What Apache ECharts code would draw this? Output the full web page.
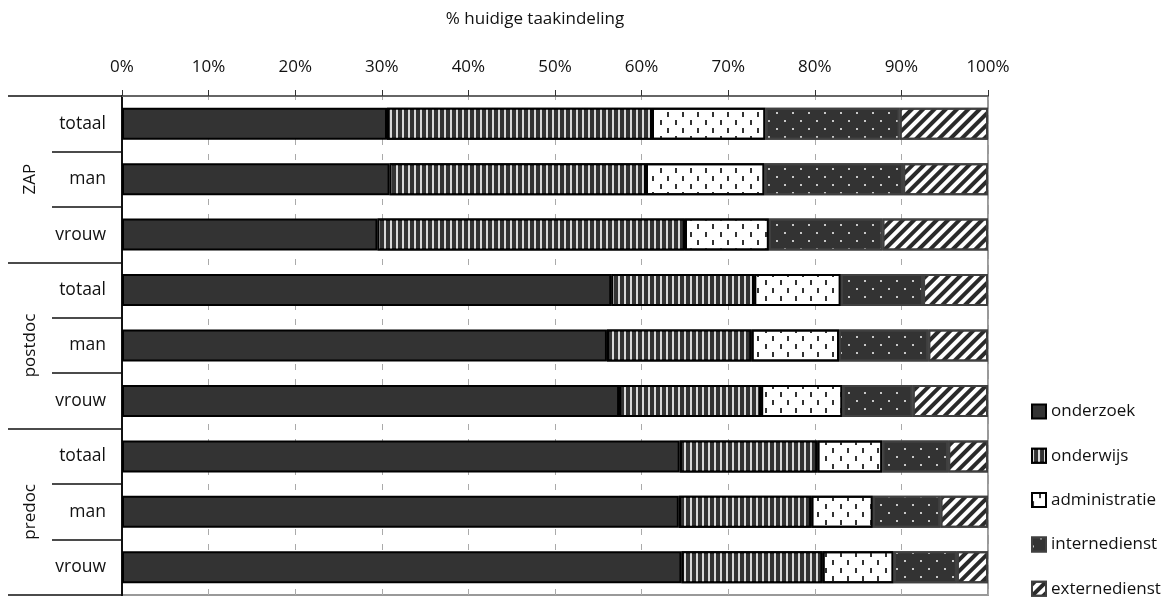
<!DOCTYPE html>
<html>
<head>
<meta charset="utf-8">
<script src="https://cdn.jsdelivr.net/npm/echarts@6/dist/echarts.min.js"></script>
<style>
  html, body { margin: 0; padding: 0; background: #fff; }
  #chart { width: 1169px; height: 597px; }
</style>
</head>
<body>
<div id="chart"></div>
<script>
// Groups and sub-rows (top to bottom)
const groups = ['ZAP', 'postdoc', 'predoc'];
const subRows = ['totaal', 'man', 'vrouw'];
const rowKeys = ['ZAP|totaal', 'ZAP|man', 'ZAP|vrouw',
                 'postdoc|totaal', 'postdoc|man', 'postdoc|vrouw',
                 'predoc|totaal', 'predoc|man', 'predoc|vrouw'];

// Share of current task division (%), one value per row
const onderzoek     = [30.6, 30.9, 29.5, 56.5, 56.0, 57.4, 64.4, 64.3, 64.6];
const onderwijs     = [30.6, 29.6, 35.5, 16.5, 16.7, 16.4, 15.9, 15.3, 16.3];
const administratie = [13.1, 13.7,  9.7, 10.0, 10.1,  9.4,  7.5,  7.1,  8.2];
const internedienst = [15.5, 16.0, 13.1,  9.5, 10.3,  8.1,  7.6,  7.8,  7.3];
const externedienst = [10.2,  9.8, 12.2,  7.5,  6.9,  8.7,  4.6,  5.5,  3.6];

const tickValues = [0, 10, 20, 30, 40, 50, 60, 70, 80, 90, 100];

const FONT = 'Open Sans';

function bar(name, data, color, borderColor, decal) {
  return {
    name: name,
    type: 'bar',
    stack: 'taak',
    barWidth: 32,
    data: data,
    itemStyle: { color: color, borderColor: borderColor, borderWidth: 2, decal: decal },
    emphasis: { disabled: true },
    animation: false
  };
}

const chart = echarts.init(document.getElementById('chart'), null, { renderer: 'canvas' });

chart.setOption({
  backgroundColor: '#fff',
  animation: false,
  grid: {
    left: 122, right: 181, top: 96, bottom: 2,
    show: true, borderColor: '#999', borderWidth: 2, backgroundColor: 'transparent'
  },
  legend: {
    orient: 'vertical',
    left: 1031, top: 403, height: 260,
    padding: 0,
    itemWidth: 14, itemHeight: 14, itemGap: 27.3,
    icon: 'rect',
    textStyle: { fontFamily: FONT, fontSize: 17, color: '#111' },
    data: ['onderzoek', 'onderwijs', 'administratie', 'internedienst', 'externedienst']
  },
  xAxis: {
    type: 'value',
    position: 'top',
    min: 0, max: 100, interval: 10,
    name: '% huidige taakindeling',
    nameLocation: 'middle',
    nameGap: 68,
    nameTextStyle: { fontFamily: FONT, fontSize: 17, color: '#111', padding: [0, 40, 0, 0] },
    axisLine: { show: true, lineStyle: { color: '#666', width: 2 } },
    axisTick: { show: true, length: 6, lineStyle: { color: '#333', width: 1 } },
    axisLabel: {
      margin: 20,
      fontFamily: FONT, fontSize: 17, color: '#111',
      formatter: function (v) { return tickValues.indexOf(v) >= 0 ? v + '%' : ''; }
    },
    splitLine: { show: true, lineStyle: { color: '#aaa', width: 1, type: [6, 9], dashOffset: 2 } }
  },
  yAxis: [
    {
      type: 'category',
      inverse: true,
      position: 'left',
      data: rowKeys,
      axisLine: { show: true, lineStyle: { color: '#111', width: 2 } },
      axisTick: { show: true, length: 70, lineStyle: { color: '#111', width: 1.5 } },
      axisLabel: {
        margin: 16,
        fontFamily: FONT, fontSize: 17.5, color: '#111',
        formatter: function (v) { return v.split('|')[1]; }
      },
      splitLine: { show: false }
    },
    {
      type: 'category',
      inverse: true,
      position: 'left',
      data: groups,
      axisLine: { show: true, lineStyle: { color: '#111', width: 2 } },
      axisTick: { show: true, length: 114, lineStyle: { color: '#111', width: 1.5 } },
      axisLabel: {
        rotate: 90,
        margin: 83,
        fontFamily: FONT, fontSize: 17, color: '#111'
      },
      splitLine: { show: false }
    }
  ],
  series: [
    bar('onderzoek', onderzoek, '#333333', '#000', null),
    bar('onderwijs', onderwijs, '#333333', '#000', {
      symbol: 'rect', symbolSize: 1, color: 'rgba(225,225,225,0.95)',
      dashArrayX: [1.3, 3.1], dashArrayY: [10, 0]
    }),
    bar('administratie', administratie, '#ffffff', '#000', {
      symbol: 'rect', symbolSize: 1, color: '#333',
      dashArrayX: [[1.4, 12.6], [0, 7, 1.4, 5.6]], dashArrayY: [5, 3]
    }),
    bar('internedienst', internedienst, '#333333', '#404040', {
      symbol: 'rect', symbolSize: 1, color: '#c8c8c8',
      dashArrayX: [[1.6, 13.4], [0, 7.5, 1.6, 5.9]], dashArrayY: [1.6, 5.9]
    }),
    bar('externedienst', externedienst, '#ffffff', '#404040', {
      symbol: 'rect', symbolSize: 1, color: '#2a2a2a',
      dashArrayX: [1, 0], dashArrayY: [3.5, 3.5], rotation: -Math.PI / 4
    })
  ]
});
</script>
</body>
</html>
